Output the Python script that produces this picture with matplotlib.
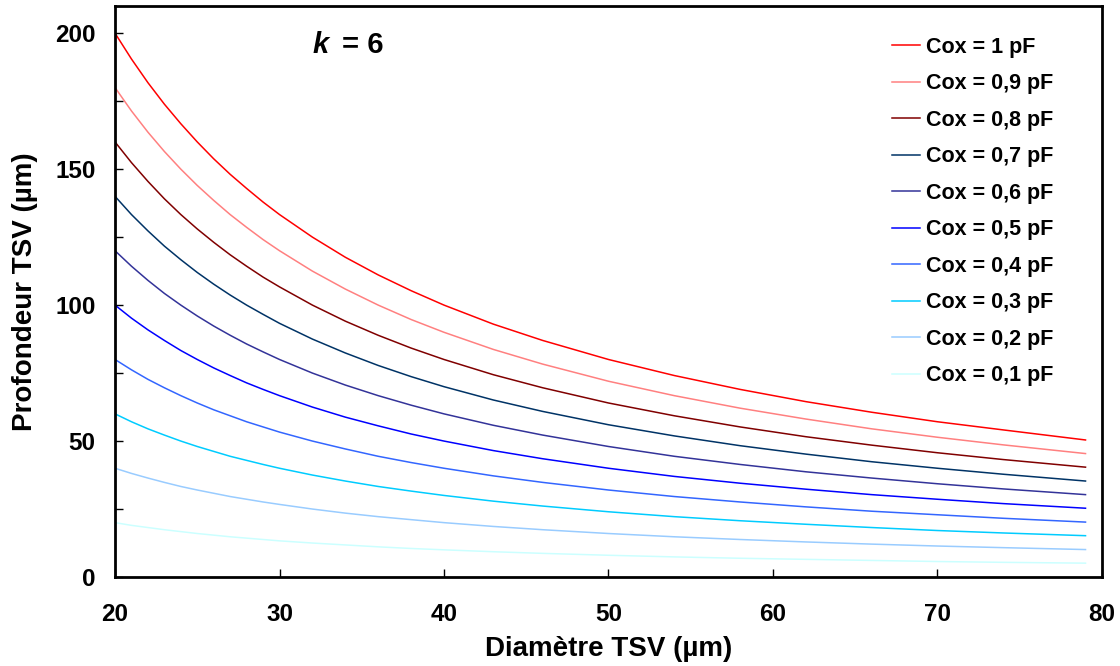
import matplotlib
matplotlib.use("Agg")
import matplotlib.pyplot as plt
from matplotlib.ticker import MultipleLocator

# police type Arial, en gras
plt.rcParams["font.family"] = ["Liberation Sans", "DejaVu Sans"]
plt.rcParams["font.weight"] = "bold"

diametre = [20, 21, 22, 23, 24, 25, 26, 27, 28, 29, 30, 32, 34, 36, 38, 40, 43, 46, 50, 54, 58, 62, 66, 70, 74, 79]

prof_1_0 = [200, 190.5, 181.8, 173.9, 166.7, 160, 153.8, 148.1, 142.9, 137.9, 133.3, 125, 117.6, 111.1, 105.3, 100, 93.0, 87.0, 80, 74.1, 69.0, 64.5, 60.6, 57.1, 54.1, 50.4]
prof_0_9 = [180, 171.4, 163.6, 156.5, 150, 144, 138.5, 133.3, 128.6, 124.1, 120, 112.5, 105.9, 100, 94.7, 90, 83.7, 78.3, 72, 66.7, 62.1, 58.1, 54.5, 51.4, 48.6, 45.4]
prof_0_8 = [160, 152.4, 145.5, 139.1, 133.3, 128, 123.1, 118.5, 114.3, 110.3, 106.7, 100, 94.1, 88.9, 84.2, 80, 74.4, 69.6, 64, 59.3, 55.2, 51.6, 48.5, 45.7, 43.2, 40.4]
prof_0_7 = [140, 133.3, 127.3, 121.7, 116.7, 112, 107.7, 103.7, 100, 96.6, 93.3, 87.5, 82.4, 77.8, 73.7, 70, 65.1, 60.9, 56, 51.9, 48.3, 45.2, 42.4, 40, 37.8, 35.3]
prof_0_6 = [120, 114.3, 109.1, 104.3, 100, 96, 92.3, 88.9, 85.7, 82.8, 80, 75, 70.6, 66.7, 63.2, 60, 55.8, 52.2, 48, 44.4, 41.4, 38.7, 36.4, 34.3, 32.4, 30.3]
prof_0_5 = [100, 95.2, 90.9, 87, 83.3, 80, 76.9, 74.1, 71.4, 69.0, 66.7, 62.5, 58.8, 55.6, 52.6, 50, 46.5, 43.5, 40, 37, 34.5, 32.3, 30.3, 28.6, 27, 25.3]
prof_0_4 = [80, 76.2, 72.7, 69.6, 66.7, 64, 61.5, 59.3, 57.1, 55.2, 53.3, 50, 47.1, 44.4, 42.1, 40, 37.2, 34.8, 32, 29.6, 27.6, 25.8, 24.2, 22.9, 21.6, 20.2]
prof_0_3 = [60, 57.1, 54.5, 52.2, 50, 48, 46.2, 44.4, 42.9, 41.4, 40, 37.5, 35.3, 33.3, 31.6, 30, 27.9, 26.1, 24, 22.2, 20.7, 19.4, 18.2, 17.1, 16.2, 15.2]
prof_0_2 = [40, 38.1, 36.4, 34.8, 33.3, 32, 30.8, 29.6, 28.6, 27.6, 26.7, 25, 23.5, 22.2, 21.1, 20, 18.6, 17.4, 16, 14.8, 13.8, 12.9, 12.1, 11.4, 10.8, 10.1]
prof_0_1 = [20, 19, 18.2, 17.4, 16.7, 16, 15.4, 14.8, 14.3, 13.8, 13.3, 12.5, 11.8, 11.1, 10.5, 10, 9.3, 8.7, 8, 7.4, 6.9, 6.5, 6.1, 5.7, 5.4, 5.1]

series = [prof_1_0, prof_0_9, prof_0_8, prof_0_7, prof_0_6,
          prof_0_5, prof_0_4, prof_0_3, prof_0_2, prof_0_1]
labels = ["Cox = 1 pF", "Cox = 0,9 pF", "Cox = 0,8 pF", "Cox = 0,7 pF", "Cox = 0,6 pF",
          "Cox = 0,5 pF", "Cox = 0,4 pF", "Cox = 0,3 pF", "Cox = 0,2 pF", "Cox = 0,1 pF"]
couleurs = ["#FF0000", "#FF8080", "#800000", "#003366", "#333399",
            "#0000FF", "#3366FF", "#00CCFF", "#99CCFF", "#CCFFFF"]

fig = plt.figure(figsize=(11.2, 6.66), dpi=100)
ax = fig.add_axes([0.1027, 0.1336, 0.8812, 0.8574])

for prof, lab, c in zip(series, labels, couleurs):
    ax.plot(diametre, prof, color=c, lw=1.1, label=lab)

ax.set_xlim(20, 80)
ax.set_ylim(0, 210)
ax.xaxis.set_major_locator(MultipleLocator(10))
ax.yaxis.set_major_locator(MultipleLocator(50))
ax.yaxis.set_minor_locator(MultipleLocator(25))
ax.tick_params(axis="x", which="major", direction="in", length=6, width=1, pad=19, labelsize=17.5)
ax.tick_params(axis="y", which="both", direction="in", length=6, width=1, pad=14, labelsize=17.5)
for s in ax.spines.values():
    s.set_linewidth(2)

ax.set_xlabel("Diamètre TSV (µm)", fontsize=20, fontweight="bold", labelpad=7)
ax.set_ylabel("Profondeur TSV (µm)", fontsize=20, fontweight="bold", labelpad=12)

# annotation k = 6
ax.text(32, 195.5, "k", fontsize=21, fontweight="bold", style="italic", va="center", ha="left")
ax.annotate("= 6", xy=(32, 195.5), xytext=(21, 0), textcoords="offset points",
            fontsize=21, fontweight="bold", va="center", ha="left")

leg = ax.legend(loc="upper left", bbox_to_anchor=(0.787, 0.946), frameon=False,
                fontsize=15.5, handlelength=1.3, handletextpad=0.3,
                labelspacing=0.72, borderpad=0, borderaxespad=0)

fig.savefig("out.png", dpi=100)
